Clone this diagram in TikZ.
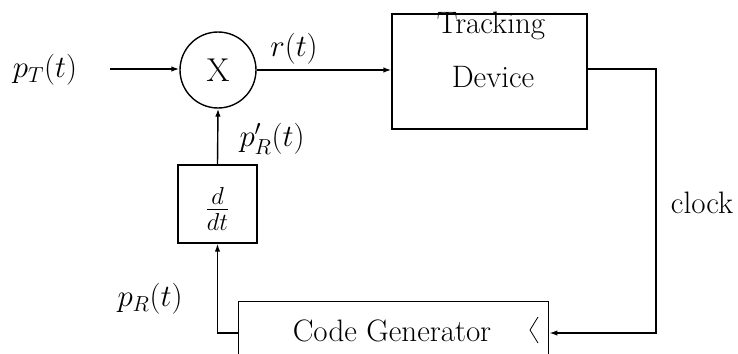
\RequirePackage{fix-cm}
\documentclass[tikz,border=0pt]{standalone}
\usepackage{fontspec}
\usetikzlibrary{arrows.meta}
\begin{document}
\begin{tikzpicture}[x=1pt, y=-1pt, line width=1.4pt,
  every node/.style={font=\fontsize{31}{36}\selectfont},
  blockbox/.style={draw, rectangle, inner sep=0pt},
  sig/.style={-{Latex[length=8pt,width=5.5pt]}}]
\useasboundingbox (0,0) rectangle (738,353);
\clip (0,0) rectangle (738,353);

% blocks
\node[draw, circle, minimum size=76pt, inner sep=0pt,
      font=\fontsize{33}{38}\selectfont] (mix) at (218,70) {X};
\node[blockbox, minimum width=195pt, minimum height=115pt] (track) at (489.5,71.5) {};
\node[anchor=base] (trackA) at (491,34) {Tracking};
\node[anchor=base] (trackB) at (493,87) {Device};
\node[blockbox, minimum width=79pt, minimum height=78pt] (ddt) at (217.5,204) {};
\node[font=\fontsize{35}{40}\selectfont] (ddtT) at (217.5,209) {$\frac{d}{dt}$};
\node[blockbox, minimum width=310pt, minimum height=80pt, anchor=north west] (gen) at (238,301) {};
\node[anchor=base] (genT) at (392,341) {Code Generator};
\draw[line width=0.8pt] (538,317) -- (530,330) -- (538,343);

% labels
\node (pT) at (45,70) {$p_T(t)$};
\node (rt) at (294,49) {$r(t)$};
\node (pRp) at (272,139) {$p'_R(t)$};
\node (pR) at (150,299) {$p_R(t)$};
\node (clk) at (702,203) {clock};

% connectors
\coordinate (in) at (110,69);
\coordinate (tr) at (656,69);
\coordinate (br) at (656,333);
\draw[sig] (in) -- (in -| mix.west);
\draw[sig] (mix.east) -- (mix.east -| track.west);
\draw[sig] (track.east |- tr) -- (tr) -- (br) -- (br -| gen.east);
\draw[sig] (gen.west |- br) -- (ddt.south |- br) -- (ddt.south);
\draw[sig] (ddt.north) -- (mix.south);
\end{tikzpicture}
\end{document}
